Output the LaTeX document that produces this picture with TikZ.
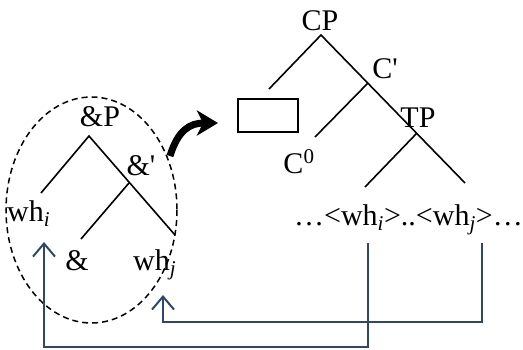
\documentclass[tikz,border=0pt]{standalone}
\usepackage{fontspec}
\setmainfont{Liberation Serif}
\usetikzlibrary{arrows.meta}
\definecolor{movblue}{RGB}{45,72,108}
\begin{document}
\begin{tikzpicture}[x=1pt,y=-1pt,
  lbl/.style={inner sep=0pt,anchor=base,font=\fontsize{30}{34}\selectfont},
  branch/.style={line width=1.6pt,black},
  movline/.style={line width=2pt,movblue,-{Straight Barb[length=13pt,width=22pt,line width=2pt]}},
  movplain/.style={line width=2pt,movblue}]
\useasboundingbox (0,0) rectangle (523,349);
% left tree
\node[lbl] (andP) at (100,126) {\&P};
\node[lbl] (andbar) at (141,175) {\&\textquotesingle};
\node[lbl,anchor=base west] (whi) at (7,221) {wh\textsubscript{\itshape i}};
\node[lbl] (amp) at (77,270) {\&};
\node[lbl,anchor=base west] (whj) at (133,270) {wh\textsubscript{\itshape j}};
\coordinate (lA) at (89,136);
\coordinate (lL) at (41,193);
\coordinate (lR) at (175,235);
\coordinate (lB) at (129,183);
\coordinate (lBL) at (81,239);
\draw[branch] (lL) -- (lA) -- (lR);
\draw[branch] (lB) -- (lBL);
\draw[line width=1.5pt,dash pattern=on 6pt off 4pt] (91.5,210) ellipse [x radius=85.5, y radius=113];
% right tree
\node[lbl] (CP) at (320,30) {CP};
\node[lbl] (Cbar) at (385,78) {C\textquotesingle};
\node[lbl] (TP) at (418,127) {TP};
\node[lbl] (C0) at (299,173) {C\textsuperscript{0}};
\node[draw,line width=1.5pt,minimum width=60pt,minimum height=33pt,inner sep=0pt] (box) at (268,115.5) {};
\node[lbl,anchor=base east] (bottom) at (523,225) {\ldots{}<wh\textsubscript{\itshape i}>..<wh\textsubscript{\itshape j}>\ldots};
\coordinate (rA) at (321,35);
\coordinate (rL) at (269,89);
\coordinate (rC) at (368,83);
\coordinate (rCL) at (315,137);
\coordinate (rT) at (417,133);
\coordinate (rTL) at (365,187);
\coordinate (rTR) at (465,183);
\draw[branch] (rL) -- (rA) -- (rTR);
\draw[branch] (rC) -- (rCL);
\draw[branch] (rT) -- (rTL);
% curved arrow
\coordinate (cs) at (170,156);
\coordinate (ce) at (218,123);
\draw[line width=7pt,-{Stealth[length=21pt,width=25pt,inset=6pt]}] (cs) .. controls (178,130) and (190,123) .. (ce);
% movement lines
\coordinate (si) at (367.5,243);
\coordinate (sj) at (481.5,243);
\coordinate (ti) at (44,242);
\coordinate (tj) at (163,295);
\draw[movline] (si) -- (367.5,347) -- (44,347) -- (ti);
\draw[movline] (sj) -- (481.5,322) -- (163,322) -- (tj);
\end{tikzpicture}
\end{document}
